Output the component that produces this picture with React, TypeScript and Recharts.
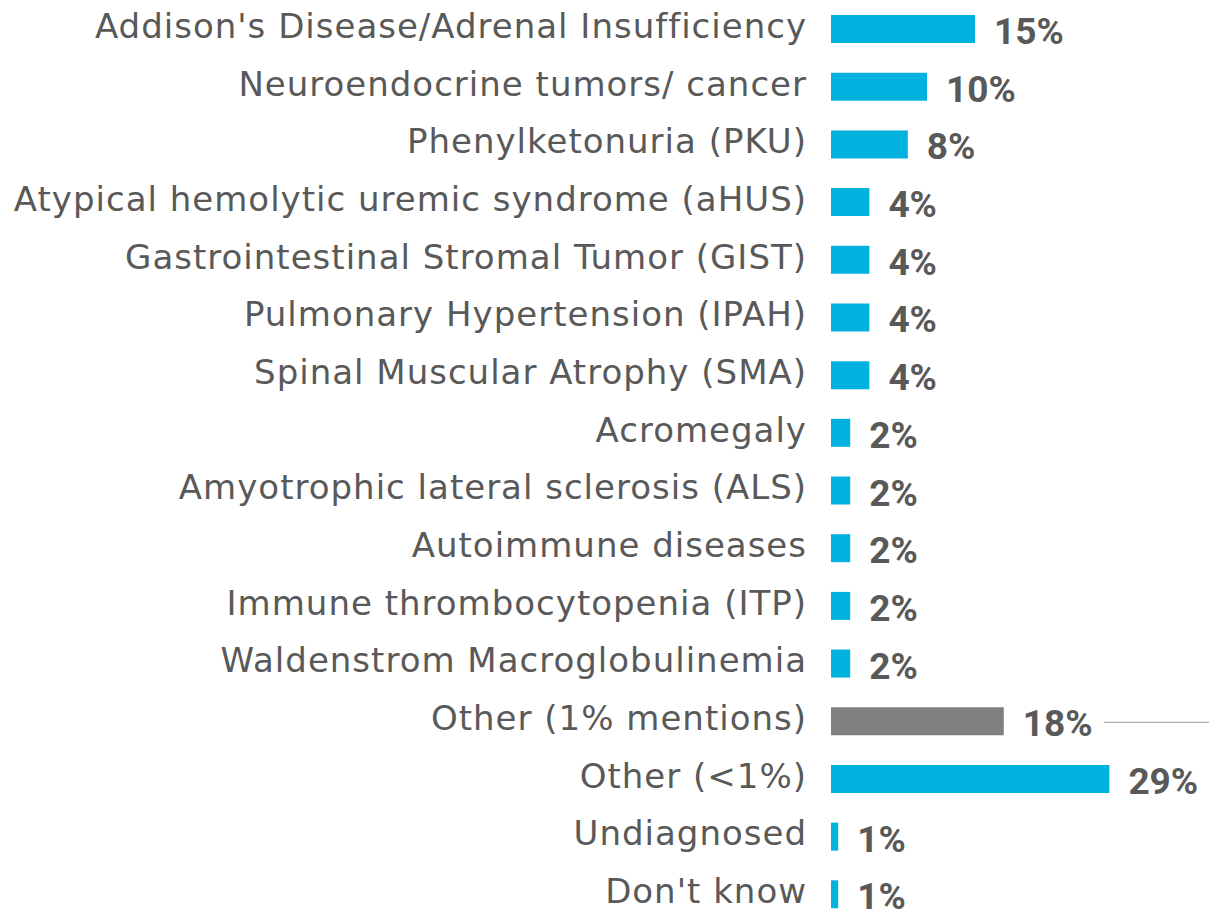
import { BarChart, Bar, XAxis, YAxis, Cell, LabelList } from 'recharts';

const categories = [
  "Addison's Disease/Adrenal Insufficiency",
  'Neuroendocrine tumors/ cancer',
  'Phenylketonuria (PKU)',
  'Atypical hemolytic uremic syndrome (aHUS)',
  'Gastrointestinal Stromal Tumor (GIST)',
  'Pulmonary Hypertension (IPAH)',
  'Spinal Muscular Atrophy (SMA)',
  'Acromegaly',
  'Amyotrophic lateral sclerosis (ALS)',
  'Autoimmune diseases',
  'Immune thrombocytopenia (ITP)',
  'Waldenstrom Macroglobulinemia',
  'Other (1% mentions)',
  'Other (<1%)',
  'Undiagnosed',
  "Don't know",
];

// bar lengths (the 1% bars are drawn shorter than 1 unit)
const shares = [15, 10, 8, 4, 4, 4, 4, 2, 2, 2, 2, 2, 18, 29, 0.75, 0.75];
const shareLabels = ['15%', '10%', '8%', '4%', '4%', '4%', '4%', '2%', '2%', '2%', '2%', '2%', '18%', '29%', '1%', '1%'];

const grayCategories = ['Other (1% mentions)'];

const BLUE = '#00B2DD';
const GRAY = '#808080';
const TEXT = '#595959';

const data = categories.map((name, i) => ({ name, value: shares[i], label: shareLabels[i] }));

function CategoryTick(props: any) {
  const { x, y, payload } = props;
  return (
    <text
      x={x}
      y={y + 9}
      textAnchor="end"
      fill={TEXT}
      fontFamily="DejaVu Sans"
      fontSize={34}
      letterSpacing={1}
    >
      {payload.value}
    </text>
  );
}

function ValueLabel(props: any) {
  const { x, y, width, height, index } = props;
  const end = x + width;
  const cy = y + height / 2;
  const isGray = grayCategories.includes(categories[index]);
  return (
    <g>
      <text x={end + 19} y={cy + 15} fill={TEXT} fontFamily="Roboto" fontWeight={700} fontSize={37}>
        {shareLabels[index]}
      </text>
      {isGray && <line x1={end + 100} x2={end + 210} y1={cy + 1} y2={cy + 1} stroke="#9a9a9a" strokeWidth={1} />}
    </g>
  );
}

export default function App() {
  return (
    <div style={{ position: 'absolute', left: 0, top: 0, background: '#fff' }}>
      <BarChart
        width={1209}
        height={923}
        data={data}
        layout="vertical"
        margin={{ top: 0, right: 0, bottom: 0, left: 0 }}
        barCategoryGap={0}
      >
        <XAxis type="number" hide domain={[0, 39.375]} />
        <YAxis
          type="category"
          dataKey="name"
          width={831}
          axisLine={false}
          tickLine={false}
          tickMargin={18}
          interval={0}
          tick={<CategoryTick />}
        />
        <Bar dataKey="value" barSize={28} isAnimationActive={false}>
          {data.map((d, i) => (
            <Cell key={i} fill={grayCategories.includes(d.name) ? GRAY : BLUE} />
          ))}
          <LabelList dataKey="label" content={<ValueLabel />} />
        </Bar>
      </BarChart>
    </div>
  );
}
